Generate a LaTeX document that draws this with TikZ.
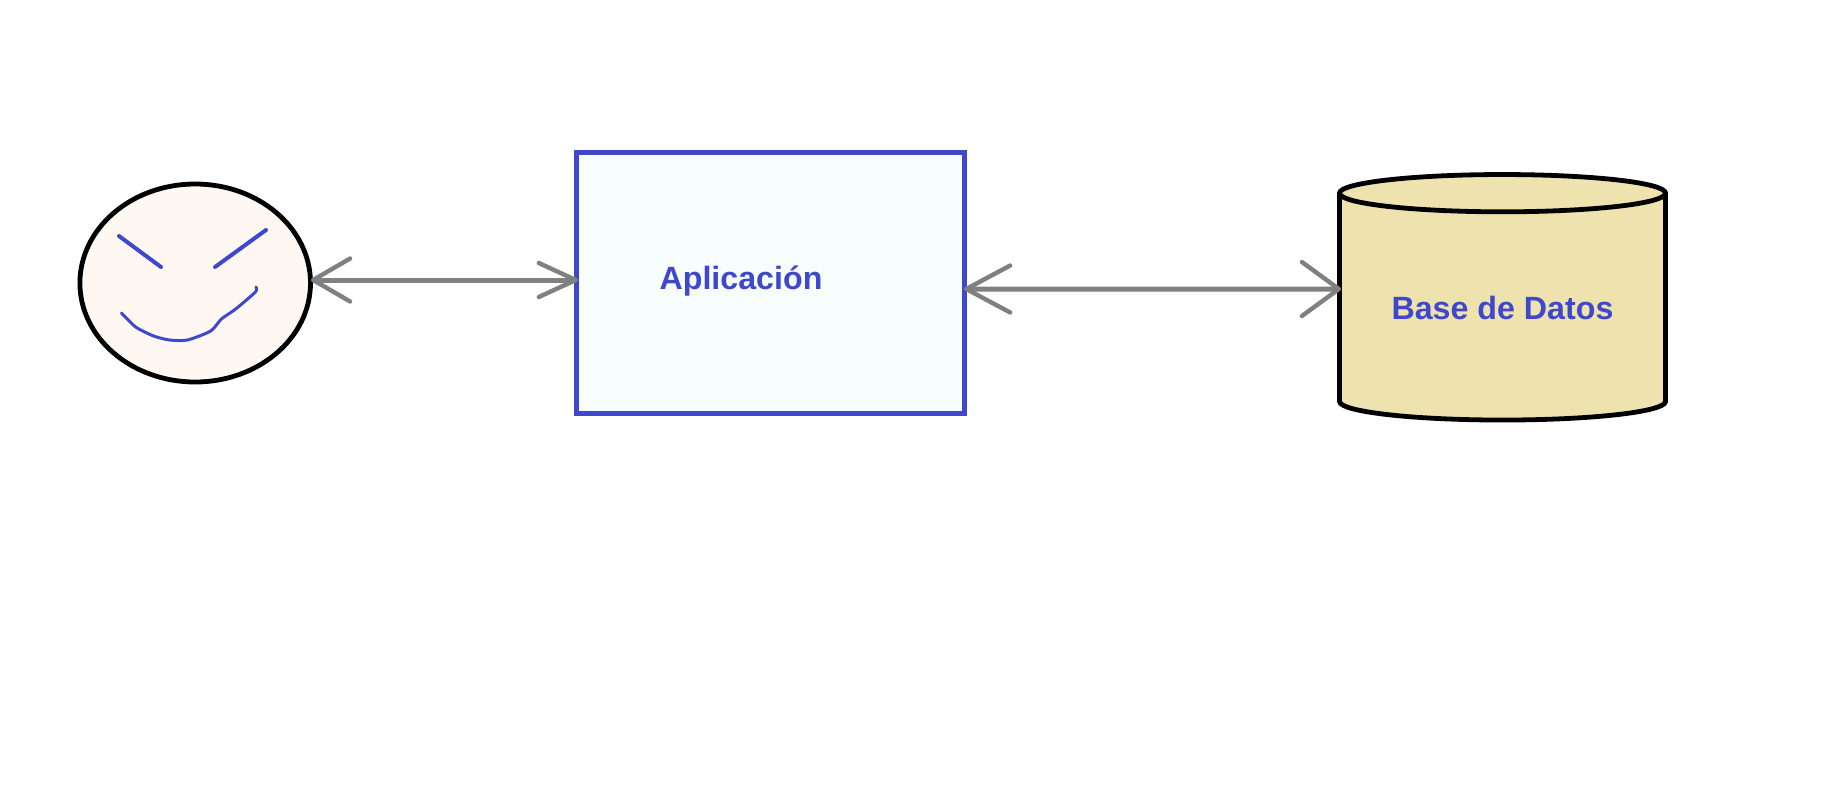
\documentclass[tikz,border=0pt]{standalone}
\usepackage{fontspec}
\setmainfont{Liberation Sans}
\usetikzlibrary{arrows.meta,shapes.geometric}
\definecolor{inkblue}{HTML}{3F48CC}
\definecolor{facefill}{HTML}{FFF8F2}
\definecolor{appfill}{HTML}{F7FDFD}
\definecolor{dbfill}{HTML}{EEE3AF}

\begin{document}
\begin{tikzpicture}[x=0.5pt,y=-0.5pt,line cap=round,node distance=3cm,
  user node/.style={ellipse,draw=black,line width=2.4pt,fill=facefill,minimum width=115.3pt,minimum height=99pt,inner sep=0pt},
  app node/.style={rectangle,draw=inkblue,line width=2.5pt,line cap=butt,fill=appfill,minimum width=194pt,minimum height=130.5pt,inner sep=0pt},
  db node/.style={cylinder,shape border rotate=90,shape aspect=0.168,draw=black,line width=2.4pt,fill=dbfill,minimum width=163pt,minimum height=122.75pt,inner sep=0pt,font=\bfseries\fontsize{16.1pt}{20pt}\selectfont,text=inkblue},
  tag node/.style={font=\bfseries\fontsize{16.1pt}{20pt}\selectfont,text=inkblue,inner sep=0pt},
  face line/.style={draw=inkblue,line width=2pt},
  link/.style={draw=gray,line width=2.5pt}]

  \useasboundingbox (0,0) rectangle (1846,793);

  \node[user node] (user) at (195.2,283) {};
  \node[app node] (app) [right of=user,node distance=287.65pt] {};
  \node[db node] (db) [right of=app,node distance=366pt,yshift=-12.4pt] {Base de Datos};
  \node[tag node,anchor=base] (apptag) at (741,289) {Aplicación};

  % eyes and mouth
  \path[face line] (119,236) -- (161,267);
  \path[face line] (215,267) -- (266,230);
  \path[face line,line width=1.5pt] plot[smooth,tension=.4] coordinates {(121.4,313) (135.7,327) (153.6,336) (169.6,340) (187.5,340) (210.7,331) (221.4,319) (235.7,309) (255.4,292) (256,287)};

  \path[link]
    ([yshift=1.5pt]user.east) edge[{Straight Barb[length=18.5pt,width=21.5pt,round,line width=2.2pt]}-{Straight Barb[length=18.5pt,width=17pt,round,line width=2.2pt]},shorten <=-1pt,shorten >=-2pt] ([yshift=1.5pt]app.west)
    ([yshift=-3pt]app.east) edge[{Straight Barb[length=22pt,width=23.5pt,round,line width=2.2pt]}-{Straight Barb[length=18.5pt,width=27pt,round,line width=2.2pt]},shorten <=-1.5pt,shorten >=-2pt] ([yshift=9.4pt]db.west);
\end{tikzpicture}
\end{document}
